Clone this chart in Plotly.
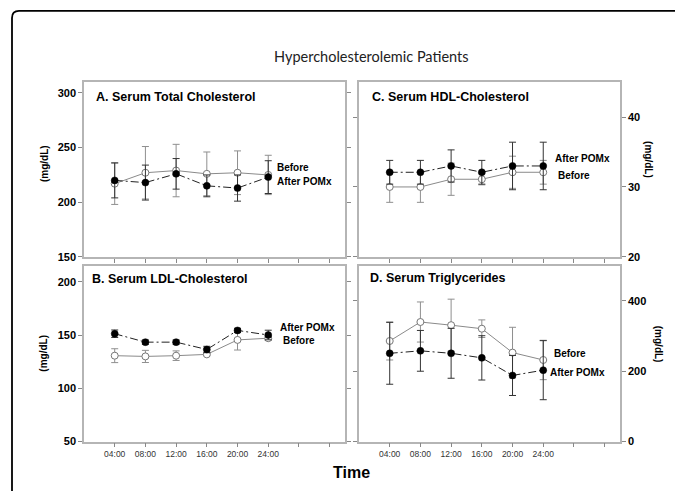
import plotly.graph_objects as go

# page body has an 8px margin, so the figure is placed at (8, 8) in the window
OFF = 8
W, H = 683 - OFF, 491 - OFF

hours = [4, 8, 12, 16, 20, 24]
x_tickvals = [4, 8, 12, 16, 20, 24, 28, 32]
x_ticktext = ["04:00", "08:00", "12:00", "16:00", "20:00", "24:00", "", ""]

tc_before = [217, 227, 229, 226, 227, 225]
tc_before_err = [19, 24, 24, 20, 20, 18]
tc_after = [220, 218, 226, 215, 213, 223]
tc_after_err = [16, 16, 14, 10, 12, 15]

hdl_before = [30, 30, 31.1, 31.1, 32.1, 32.1]
hdl_before_err = [2.2, 2.2, 2.3, 0.8, 2.3, 1.7]
hdl_after = [32.1, 32.1, 33, 32.1, 33, 33]
hdl_after_err = [1.7, 1.7, 2.3, 1.7, 3.4, 3.4]

ldl_before = [130.6, 129.9, 130.6, 131.8, 145.4, 147]
ldl_before_err = [6.5, 5.7, 4.5, 1, 9.5, 2]
ldl_after = [151.2, 143.3, 143.3, 136.4, 154.3, 150]
ldl_after_err = [3.5, 2, 2, 3, 2, 4.5]

tg_before = [286, 340, 331, 321, 253, 232]
tg_before_err = [54, 57, 74, 25, 72, 56]
tg_after = [251, 258, 251, 238, 188, 203]
tg_after_err = [88, 58, 71, 63, 57, 84]

yticks_A = [150, 200, 250, 300]
yticks_B = [50, 100, 150, 200]
yticks_C = [20, 30, 40]
yticks_D = [0, 200, 400]


def px(x):
    return (x - OFF) / W


def py(y):
    return 1 - (y - OFF) / H


FONT = "Liberation Sans, Arial, sans-serif"
fig = go.Figure()

panels = [
    ("", tc_before, tc_before_err, tc_after, tc_after_err),
    ("2", ldl_before, ldl_before_err, ldl_after, ldl_after_err),
    ("3", hdl_before, hdl_before_err, hdl_after, hdl_after_err),
    ("4", tg_before, tg_before_err, tg_after, tg_after_err),
]

for suf, b, be, a, ae in panels:
    xa, ya = "x" + suf, "y" + suf
    fig.add_trace(go.Scatter(
        x=hours, y=b, xaxis=xa, yaxis=ya, mode="lines+markers",
        line=dict(color="#8a8a8a", width=1),
        marker=dict(size=7, color="white", line=dict(color="#777777", width=1)),
        error_y=dict(type="data", array=be, color="#8f8f8f", thickness=1, width=3.5),
        showlegend=False, cliponaxis=False,
    ))
    fig.add_trace(go.Scatter(
        x=hours, y=a, xaxis=xa, yaxis=ya, mode="lines+markers",
        line=dict(color="#222222", width=1, dash="8px,3px,2px,3px"),
        marker=dict(size=7, color="black", line=dict(color="black", width=0.5)),
        error_y=dict(type="data", array=ae, color="#333333", thickness=1, width=3.5),
        showlegend=False, cliponaxis=False,
    ))

xd_left = [px(84), px(345)]
xd_right = [px(359), px(620)]
yd_top = [py(260), py(83)]
yd_bot = [py(447), py(269)]

ax_common = dict(showline=True, linecolor="#b5b5b5", linewidth=1.5, mirror=True,
                 showgrid=False, zeroline=False, ticks="outside", ticklen=4,
                 tickcolor="#888888", tickwidth=1)
xcommon = dict(ax_common, range=[0, 34], tickvals=x_tickvals, ticktext=x_ticktext)
ytickfont = dict(family=FONT, size=11, color="black", weight="bold")
xtickfont = dict(family=FONT, size=8.5, color="#333333")

fig.update_layout(
    width=W, height=H, margin=dict(l=0, r=0, t=0, b=0),
    paper_bgcolor="white", plot_bgcolor="white",
    xaxis=dict(xcommon, domain=xd_left, anchor="y", showticklabels=False),
    yaxis=dict(ax_common, domain=yd_top, anchor="x", range=[150, 310],
               tickvals=yticks_A, tickfont=ytickfont, mirror="allticks"),
    xaxis2=dict(xcommon, domain=xd_left, anchor="y2", tickfont=xtickfont),
    yaxis2=dict(ax_common, domain=yd_bot, anchor="x2", range=[50, 215],
                tickvals=yticks_B, tickfont=ytickfont, mirror="allticks"),
    xaxis3=dict(xcommon, domain=xd_right, anchor="y3", showticklabels=False),
    yaxis3=dict(ax_common, domain=yd_top, anchor="x3", range=[20, 45], side="right",
                tickvals=yticks_C, tickfont=ytickfont, mirror="allticks"),
    xaxis4=dict(xcommon, domain=xd_right, anchor="y4", tickfont=xtickfont),
    yaxis4=dict(ax_common, domain=yd_bot, anchor="x4", range=[0, 500], side="right",
                tickvals=yticks_D, tickfont=ytickfont, mirror="allticks"),
)

annots = []


def txt(text, x, y, size, anchor="left", bold=True, angle=0, family=FONT, color="black"):
    annots.append(dict(
        text=text, x=px(x), y=py(y), xref="paper", yref="paper",
        xanchor=anchor, yanchor="middle", showarrow=False, textangle=angle,
        borderpad=0,
        font=dict(family=family, size=size, color=color, weight="bold" if bold else "normal"),
    ))


txt("Hypercholesterolemic Patients", 371.5, 57, 14.5, anchor="center", bold=False,
    family="Lato, Open Sans, sans-serif", color="#222222")
txt("A. Serum Total Cholesterol", 95, 98, 12.5)
txt("B. Serum LDL-Cholesterol", 91, 282, 12.5)
txt("C. Serum HDL-Cholesterol", 371, 98, 12.5)
txt("D. Serum Triglycerides", 369, 281, 12.5)

txt("Before", 275.5, 170, 10)
txt("After POMx", 275.5, 184, 10)
txt("After POMx", 279, 332, 10)
txt("Before", 281.5, 345, 10)
txt("After POMx", 554, 160, 10)
txt("Before", 557, 178, 10)
txt("Before", 553, 358, 10)
txt("After POMx", 549, 377, 10)

txt("(mg/dL)", 44, 166, 10, anchor="center", angle=-90)
txt("(mg/dL)", 44, 358, 10, anchor="center", angle=-90)
txt("(mg/dL)", 649, 161, 10, anchor="center", angle=90)
txt("(mg/dL)", 658, 348, 10, anchor="center", angle=90)

txt("Time", 351, 478, 16, anchor="center")

fig.update_layout(annotations=annots)

# outer rounded frame (top-left corner visible; continues past right and bottom edges)
x0, y0 = px(12), py(11)
dx, dy = 7 / W, 7 / H
path = (f"M {x0},{py(520)} L {x0},{y0 - dy} Q {x0},{y0} {x0 + dx},{y0} "
        f"L {px(690)},{y0}")
fig.add_shape(type="path", path=path, xref="paper", yref="paper",
              line=dict(color="black", width=1.8))

fig.write_html("out.html")
